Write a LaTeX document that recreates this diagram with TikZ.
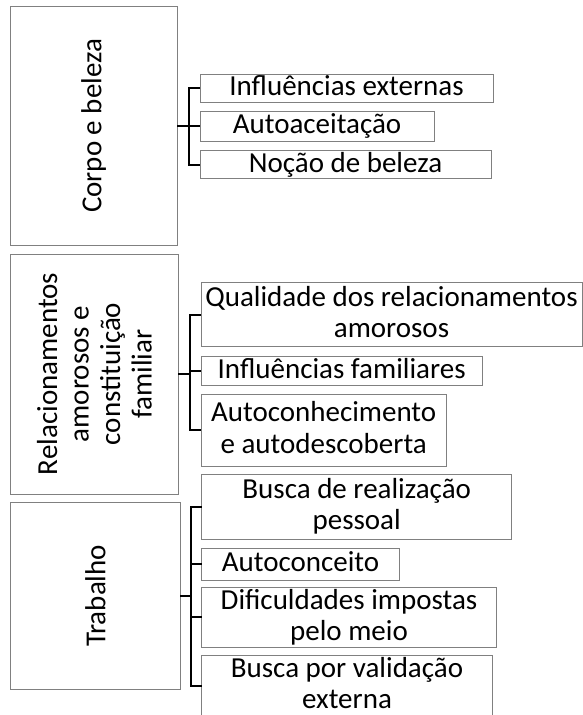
\documentclass[tikz,border=0pt]{standalone}
\usepackage{fontspec}
\setmainfont{Carlito}
\definecolor{boxgray}{RGB}{128,128,128}
\newcommand{\rowstrut}{\rule[-6.5pt]{0pt}{28pt}}
\begin{document}
\begin{tikzpicture}[x=1pt,y=-1pt,
  every node/.style={font=\fontsize{29}{31.5}\selectfont},
  themebox/.style={draw=boxgray,line width=1pt,rotate=90,inner sep=0pt,outer sep=0pt,align=center},
  subbox/.style={draw=boxgray,line width=1pt,inner sep=0pt,outer sep=0pt,anchor=north west,align=center},
  link/.style={line width=2pt}]
%\draw [help lines,black!20!white] (0,0) grid[step=50] (583,715);
\useasboundingbox (0,0) rectangle (583,715);

\node[themebox,minimum width=238.3,minimum height=166.5] (p1) at (93.75,125.85) {Corpo e beleza};
\node[themebox,minimum width=240,minimum height=167.6] (p2) at (94.5,374) {Relacionamentos\\amorosos e\\constituição\\familiar};
\node[themebox,minimum width=186.3,minimum height=169.6] (p3) at (95.5,595.85) {Trabalho};

\node[subbox,minimum width=293,minimum height=27.7] (c11) at (200,74) {\rowstrut Influências externas};
\node[subbox,minimum width=234,minimum height=30.7] (c12) at (200,111) {\rowstrut Autoaceitação};
\node[subbox,minimum width=291,minimum height=27.6] (c13) at (200,150.7) {\rowstrut Noção de beleza};

\node[subbox,minimum width=381,minimum height=64] (c21) at (201,282.7) {\rowstrut Qualidade dos relacionamentos\\amorosos\rowstrut};
\node[subbox,minimum width=281.3,minimum height=29] (c22) at (201,356) {\rowstrut Influências familiares};
\node[subbox,minimum width=245.3,minimum height=72] (c23) at (201,394) {\rowstrut Autoconhecimento\\e autodescoberta\rowstrut};

\node[subbox,minimum width=310,minimum height=65.3] (c31) at (201.7,474) {\rowstrut Busca de realização\\pessoal\rowstrut};
\node[subbox,minimum width=197.6,minimum height=31.7] (c32) at (201.7,548.3) {\rowstrut Autoconceito};
\node[subbox,minimum width=294.6,minimum height=58.3] (c33) at (201.7,587.7) {\rowstrut Dificuldades impostas\\pelo meio\rowstrut};
\node[subbox,minimum width=290.6,minimum height=61] (c34) at (201.7,655) {\rowstrut Busca por validação\\externa\rowstrut};

\coordinate (b1) at (189.3,0);
\coordinate (b2) at (190,0);
\coordinate (b3) at (191.3,0);

\draw[link] (p1.south) -- (p1.south -| b1);
\draw[link] (c11.west) -- (c11.west -| b1) -- (c13.west -| b1) -- (c13.west);
\draw[link] (c12.west -| b1) -- (c12.west);

\draw[link] (p2.south) -- (p2.south -| b2);
\draw[link] (c21.west) -- (c21.west -| b2) -- (c23.west -| b2) -- (c23.west);
\draw[link] (c22.west -| b2) -- (c22.west);

\draw[link] (p3.south) -- (p3.south -| b3);
\draw[link] (c31.west) -- (c31.west -| b3) -- (c34.west -| b3) -- (c34.west);
\foreach \c in {c32,c33}
  \draw[link] (\c.west -| b3) -- (\c.west);

\end{tikzpicture}
\end{document}
